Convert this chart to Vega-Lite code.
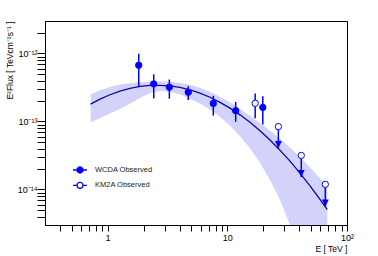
{
  "$schema": "https://vega.github.io/schema/vega-lite/v6.json",
  "width": 302,
  "height": 204,
  "autosize": {"type": "none"},
  "padding": {"left": 45, "top": 21, "right": 31, "bottom": 31},
  "background": "white",
  "config": {
    "view": {"stroke": "black", "strokeWidth": 1},
    "font": "Liberation Sans",
    "axis": {"grid": false, "zindex": 1, "domainColor": "black", "tickColor": "black", "labelColor": "black", "titleColor": "black", "labelFont": "Liberation Sans", "titleFont": "Liberation Sans", "titleFontWeight": "normal"}
  },
  "datasets": {
    "fit": [
      {"E": 0.722, "flux": 1.80e-13, "lo": 9.66e-14, "hi": 2.52e-13},
      {"E": 0.864, "flux": 2.13e-13, "lo": 1.12e-13, "hi": 2.88e-13},
      {"E": 1.047, "flux": 2.47e-13, "lo": 1.31e-13, "hi": 3.22e-13},
      {"E": 1.269, "flux": 2.80e-13, "lo": 1.52e-13, "hi": 3.48e-13},
      {"E": 1.539, "flux": 3.07e-13, "lo": 1.82e-13, "hi": 3.66e-13},
      {"E": 1.865, "flux": 3.27e-13, "lo": 2.22e-13, "hi": 3.77e-13},
      {"E": 2.261, "flux": 3.39e-13, "lo": 2.63e-13, "hi": 3.85e-13},
      {"E": 2.740, "flux": 3.40e-13, "lo": 2.80e-13, "hi": 3.87e-13},
      {"E": 3.321, "flux": 3.33e-13, "lo": 2.74e-13, "hi": 3.82e-13},
      {"E": 4.025, "flux": 3.16e-13, "lo": 2.49e-13, "hi": 3.68e-13},
      {"E": 4.880, "flux": 2.91e-13, "lo": 2.16e-13, "hi": 3.45e-13},
      {"E": 5.914, "flux": 2.61e-13, "lo": 1.84e-13, "hi": 3.12e-13},
      {"E": 7.169, "flux": 2.27e-13, "lo": 1.50e-13, "hi": 2.73e-13},
      {"E": 8.690, "flux": 1.91e-13, "lo": 1.17e-13, "hi": 2.31e-13},
      {"E": 10.53, "flux": 1.57e-13, "lo": 8.70e-14, "hi": 1.91e-13},
      {"E": 12.77, "flux": 1.25e-13, "lo": 6.06e-14, "hi": 1.53e-13},
      {"E": 15.47, "flux": 9.70e-14, "lo": 4.03e-14, "hi": 1.21e-13},
      {"E": 18.76, "flux": 7.30e-14, "lo": 2.47e-14, "hi": 9.49e-14},
      {"E": 22.73, "flux": 5.33e-14, "lo": 1.38e-14, "hi": 7.35e-14},
      {"E": 27.55, "flux": 3.78e-14, "lo": 6.97e-15, "hi": 5.58e-14},
      {"E": 33.40, "flux": 2.61e-14, "lo": 2.99e-15, "hi": 4.15e-14},
      {"E": 40.49, "flux": 1.74e-14, "lo": 1.17e-15, "hi": 3.00e-14},
      {"E": 49.09, "flux": 1.13e-14, "lo": 3.86e-16, "hi": 2.10e-14},
      {"E": 59.48, "flux": 7.16e-15, "lo": 1.05e-16, "hi": 1.46e-14},
      {"E": 68.45, "flux": 5.03e-15, "lo": 4.42e-17, "hi": 1.10e-14}
    ],
    "pts": [
      {"E": 1.82, "flux": 6.7e-13, "lo": 3.2e-13, "hi": 9.9e-13, "det": "WCDA Observed"},
      {"E": 2.43, "flux": 3.56e-13, "lo": 2.18e-13, "hi": 4.94e-13, "det": "WCDA Observed"},
      {"E": 3.28, "flux": 3.19e-13, "lo": 2.16e-13, "hi": 4.13e-13, "det": "WCDA Observed"},
      {"E": 4.72, "flux": 2.69e-13, "lo": 2.06e-13, "hi": 3.30e-13, "det": "WCDA Observed"},
      {"E": 7.64, "flux": 1.84e-13, "lo": 1.22e-13, "hi": 2.38e-13, "det": "WCDA Observed"},
      {"E": 11.75, "flux": 1.44e-13, "lo": 9.86e-14, "hi": 1.94e-13, "det": "WCDA Observed"},
      {"E": 19.8, "flux": 1.61e-13, "lo": 9.0e-14, "hi": 2.35e-13, "det": "WCDA Observed"},
      {"E": 17.1, "flux": 1.85e-13, "lo": 1.11e-13, "hi": 2.58e-13, "det": "KM2A Observed"},
      {"E": 26.7, "flux": 8.4e-14, "ul": 4.06e-14, "det": "KM2A Observed"},
      {"E": 41.5, "flux": 3.16e-14, "ul": 1.52e-14, "det": "KM2A Observed"},
      {"E": 65.9, "flux": 1.19e-14, "ul": 5.6e-15, "det": "KM2A Observed"}
    ]
  },
  "layer": [
    {
      "data": {"name": "fit"},
      "mark": {"type": "area", "color": "#d2d2fb", "opacity": 1, "clip": true},
      "encoding": {
        "x": {"field": "E", "type": "quantitative", "scale": {"type": "log", "domain": [0.3, 100], "nice": false},
          "axis": {
            "values": [0.4, 0.5, 0.6, 0.7, 0.8, 0.9, 1, 2, 3, 4, 5, 6, 7, 8, 9, 10, 20, 30, 40, 50, 60, 70, 80, 90, 100],
            "labelExpr": "datum.value == 1 ? '1' : datum.value == 10 ? '10' : datum.value == 100 ? '10²' : ''",
            "ticks": true, "tickSize": 6, "tickWidth": 1,
            "encode": {"ticks": {"update": {"y": {"value": 0}, "y2": {"signal": "datum.value == 1 || datum.value == 10 || datum.value == 100 ? -6 : -3"}}}},
            "labelOverlap": false, "labelFlush": false, "labelFontSize": 9, "labelPadding": 2,
            "title": "E [ TeV ]", "titleAnchor": "end", "titleFontSize": 8.5, "titlePadding": 2
          }},
        "y": {"field": "lo", "type": "quantitative", "scale": {"type": "log", "domain": [3e-15, 3e-12], "nice": false},
          "axis": {
            "values": [4e-15, 5e-15, 6e-15, 7e-15, 8e-15, 9e-15, 1e-14, 2e-14, 3e-14, 4e-14, 5e-14, 6e-14, 7e-14, 8e-14, 9e-14, 1e-13, 2e-13, 3e-13, 4e-13, 5e-13, 6e-13, 7e-13, 8e-13, 9e-13, 1e-12, 2e-12],
            "labelExpr": "datum.value == 1e-12 ? '10⁻¹²' : datum.value == 1e-13 ? '10⁻¹³' : datum.value == 1e-14 ? '10⁻¹⁴' : ''",
            "ticks": true, "tickSize": 8, "tickWidth": 1,
            "encode": {"ticks": {"update": {"x": {"value": 0}, "x2": {"signal": "datum.value == 1e-12 || datum.value == 1e-13 || datum.value == 1e-14 ? 8 : 4"}}}},
            "labelOverlap": false, "labelFlush": false, "labelFontSize": 9, "labelPadding": 0,
            "title": "E²Flux [ TeVcm⁻²s⁻¹ ]", "titleAnchor": "end", "titleFontSize": 8.5, "titlePadding": 3
          }},
        "y2": {"field": "hi"}
      }
    },
    {
      "data": {"name": "fit"},
      "mark": {"type": "line", "color": "#0a0a9e", "strokeWidth": 1.3, "clip": true},
      "encoding": {
        "x": {"field": "E", "type": "quantitative", "scale": {"type": "log", "domain": [0.3, 100], "nice": false}},
        "y": {"field": "flux", "type": "quantitative", "scale": {"type": "log", "domain": [3e-15, 3e-12], "nice": false}}
      }
    },
    {
      "data": {"name": "pts"},
      "transform": [{"filter": "isValid(datum.lo)"}],
      "mark": {"type": "rule", "color": "#0000ff", "strokeWidth": 1.5},
      "encoding": {
        "x": {"field": "E", "type": "quantitative", "scale": {"type": "log", "domain": [0.3, 100], "nice": false}},
        "y": {"field": "lo", "type": "quantitative", "scale": {"type": "log", "domain": [3e-15, 3e-12], "nice": false}},
        "y2": {"field": "hi"}
      }
    },
    {
      "data": {"name": "pts"},
      "transform": [{"filter": "isValid(datum.ul)"}],
      "mark": {"type": "rule", "color": "#0000ff", "strokeWidth": 1.5},
      "encoding": {
        "x": {"field": "E", "type": "quantitative", "scale": {"type": "log", "domain": [0.3, 100], "nice": false}},
        "y": {"field": "flux", "type": "quantitative", "scale": {"type": "log", "domain": [3e-15, 3e-12], "nice": false}},
        "y2": {"field": "ul"}
      }
    },
    {
      "data": {"name": "pts"},
      "transform": [{"filter": "isValid(datum.ul)"}],
      "mark": {"type": "point", "shape": "M-1,-2L1,-2L0,0Z", "size": 49, "filled": true, "color": "#0000ff", "opacity": 1, "strokeWidth": 0},
      "encoding": {
        "x": {"field": "E", "type": "quantitative", "scale": {"type": "log", "domain": [0.3, 100], "nice": false}},
        "y": {"field": "ul", "type": "quantitative", "scale": {"type": "log", "domain": [3e-15, 3e-12], "nice": false}}
      }
    },
    {
      "data": {"name": "pts"},
      "mark": {"type": "point", "shape": "circle", "size": 40, "stroke": "#0000ff", "strokeWidth": 1, "opacity": 1},
      "encoding": {
        "x": {"field": "E", "type": "quantitative", "scale": {"type": "log", "domain": [0.3, 100], "nice": false}},
        "y": {"field": "flux", "type": "quantitative", "scale": {"type": "log", "domain": [3e-15, 3e-12], "nice": false}},
        "fill": {"field": "det", "type": "nominal", "scale": {"domain": ["WCDA Observed", "KM2A Observed"], "range": ["#0000ff", "#ffffff"]},
          "legend": {
            "orient": "none", "legendX": 27, "legendY": 141, "title": null, "padding": 0,
            "symbolType": "M-1 0L-0.43 0M0.43 0L1 0M0.43 0A0.43 0.43 0 1 1 -0.43 0A0.43 0.43 0 1 1 0.43 0Z",
            "symbolSize": 196, "symbolStrokeColor": "#0000ff", "symbolStrokeWidth": 1.3, "symbolOpacity": 1,
            "labelFont": "Liberation Sans", "labelFontSize": 7.5, "labelColor": "#222222", "labelOffset": 7, "rowPadding": 1.3
          }}
      }
    }
  ]
}
